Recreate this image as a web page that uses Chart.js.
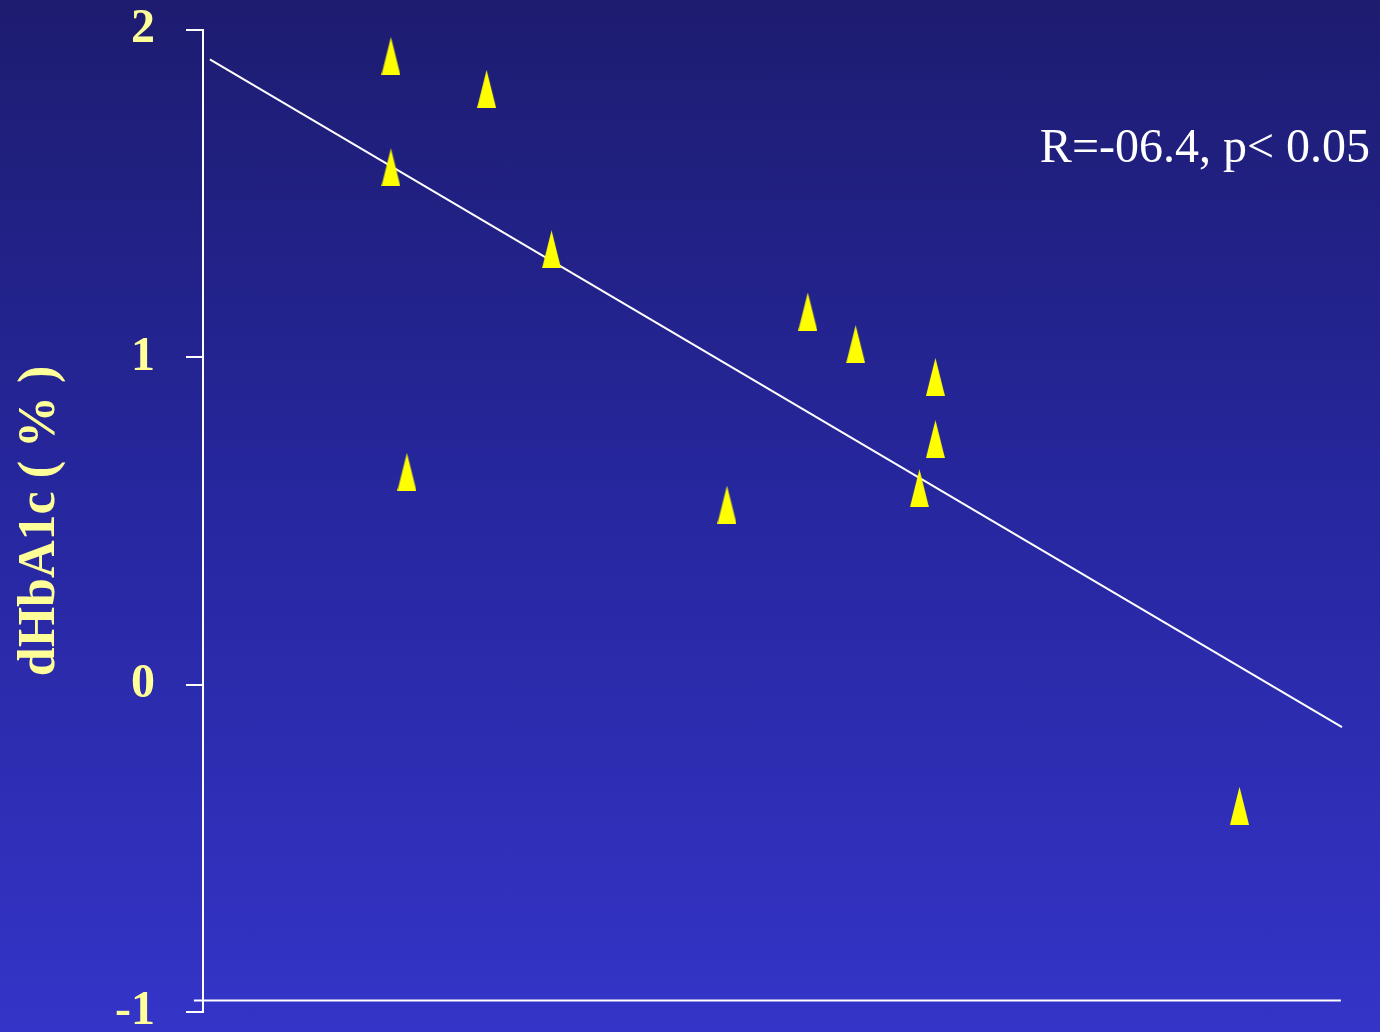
<!DOCTYPE html>
<html>
<head>
<meta charset="utf-8">
<script src="https://cdn.jsdelivr.net/npm/chart.js@4"></script>
<style>
  html, body { margin: 0; padding: 0; }
  #wrap {
    width: 1380px; height: 1032px; position: relative;
    background: linear-gradient(to bottom, #1d1c70 0%, #2727a0 50%, #3434c8 100%);
  }
</style>
</head>
<body>
<div id="wrap"><canvas id="myChart"></canvas></div>
<script>
var pointX = [16.5, 24.9, 16.5, 30.6, 53.1, 57.3, 64.3, 17.9, 64.3, 62.9, 46.0, 91.0];
var pointY = [1.92, 1.82, 1.58, 1.33, 1.14, 1.04, 0.94, 0.65, 0.75, 0.60, 0.55, -0.37];
var fitX = [0.6, 100];
var fitY = [1.91, -0.13];
var baseX = [-0.8, 99.9];
var baseY = [-0.965, -0.965];
var yTicks = [2, 1, 0, -1];
var yTitle = 'dHbA1c ( % )';
var note = 'R=-06.4, p< 0.05';

var pts = [];
for (var i = 0; i < pointX.length; i++) pts.push({x: pointX[i], y: pointY[i]});
var fit = [{x: fitX[0], y: fitY[0]}, {x: fitX[1], y: fitY[1]}];
var base = [{x: baseX[0], y: baseY[0]}, {x: baseX[1], y: baseY[1]}];

// tall narrow triangle marker
var tri = document.createElement('canvas');
tri.width = 19; tri.height = 38;
var tctx = tri.getContext('2d');
tctx.fillStyle = '#ffff00';
tctx.beginPath();
tctx.moveTo(9.5, 0);
tctx.lineTo(19, 38);
tctx.lineTo(0, 38);
tctx.closePath();
tctx.fill();

var notePlugin = {
  id: 'note',
  afterDraw: function(chart) {
    var c = chart.ctx;
    c.save();
    c.font = '48px "Liberation Serif"';
    c.fillStyle = '#ffffff';
    c.textAlign = 'right';
    c.textBaseline = 'alphabetic';
    c.fillText(note, 1370, 162);
    c.restore();
  }
};

var ctx = document.getElementById('myChart').getContext('2d');
var myChart = new Chart(ctx, {
  type: 'scatter',
  data: {
    datasets: [
      {
        type: 'line', data: base, borderColor: '#ffffff', borderWidth: 2,
        pointRadius: 0, fill: false, clip: false, order: 3
      },
      {
        type: 'line', data: fit, borderColor: '#ffffff', borderWidth: 2,
        pointRadius: 0, fill: false, clip: false, order: 2
      },
      {
        data: pts, pointStyle: tri, pointRadius: 10, clip: false, order: 1
      }
    ]
  },
  options: {
    responsive: true,
    maintainAspectRatio: false,
    devicePixelRatio: 1,
    animation: false,
    layout: { padding: { top: 30, bottom: 20, left: 0, right: 38 } },
    plugins: { legend: { display: false }, tooltip: { enabled: false } },
    scales: {
      x: { type: 'linear', display: false, min: 0, max: 100 },
      y: {
        type: 'linear', min: -1, max: 2,
        afterBuildTicks: function(s) {
          s.ticks = yTicks.map(function(v) { return {value: v}; });
        },
        afterFit: function(s) {
          s.width = 203;
          s.paddingTop = 0;
          s.paddingBottom = 0;
        },
        border: { display: true, color: '#ffffff', width: 2 },
        grid: { drawOnChartArea: false, color: '#ffffff', lineWidth: 2, tickLength: 17 },
        ticks: {
          color: '#ffff99', padding: 31,
          font: { family: '"Liberation Serif"', size: 48, weight: 'bold', lineHeight: 0.8 }
        },
        title: {
          display: true, text: yTitle, color: '#ffff99',
          padding: { top: 9, bottom: 0 },
          font: { family: '"Liberation Serif"', size: 52, weight: 'bold' }
        }
      }
    }
  },
  plugins: [notePlugin]
});
</script>
</body>
</html>
